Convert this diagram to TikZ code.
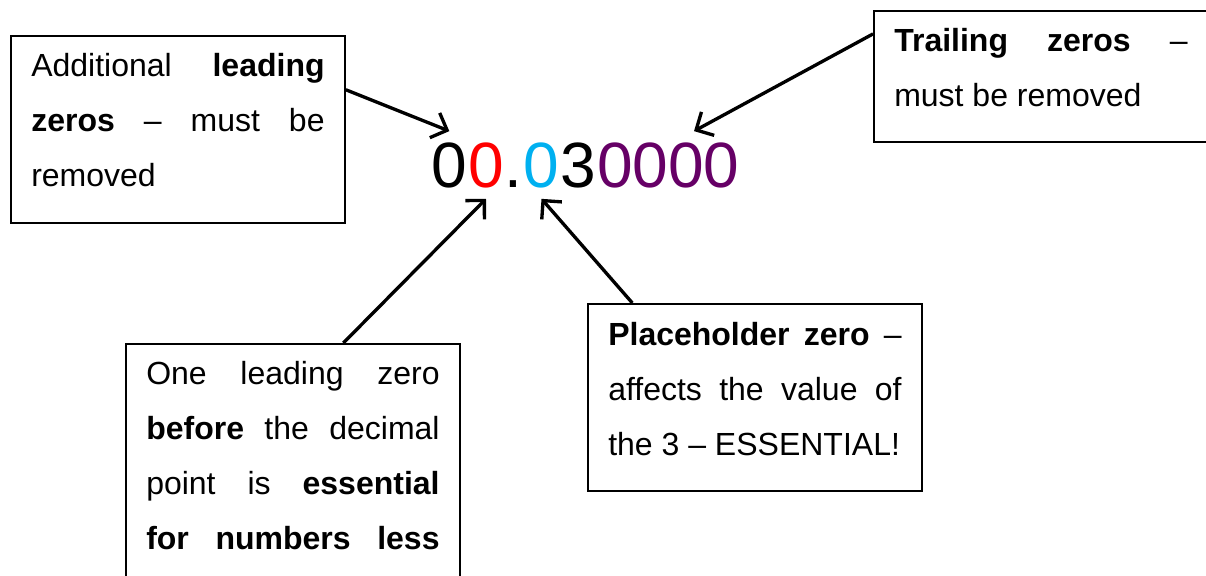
\documentclass[tikz,border=0pt]{standalone}
\usepackage{fontspec}
\setmainfont{Liberation Sans}
\usetikzlibrary{arrows.meta, positioning, calc}
\definecolor{zred}{HTML}{FF0000}
\definecolor{zcyan}{HTML}{00B0F0}
\definecolor{zplum}{HTML}{660066}

\begin{document}
\begin{tikzpicture}[x=0.375pt, y=-0.375pt,
  note/.style={rectangle, draw=black, line width=0.75pt, anchor=north west,
    font=\fontsize{12pt}{20.7pt}\selectfont, text width=110pt, align=justify,
    inner xsep=7.6pt, inner ysep=0pt, text height=15pt},
  digit/.style={font=\fontsize{24pt}{28pt}\selectfont, inner xsep=0pt,
    inner ysep=4pt},
  pointer/.style={-{Straight Barb[length=5pt, width=10pt]}, line width=1.25pt}]
  \useasboundingbox (0,0) rectangle (1206,575);
  \clip (0,0) rectangle (1206,575);
  % the number
  \node[digit, anchor=base west] (z1) at (431,187) {0};
  \node[digit, text=zred, base right=0pt of z1] (z2) {0};
  \node[digit, base right=0pt of z2] (dot) {.};
  \node[digit, text=zcyan, base right=0pt of dot] (z3) {0};
  \node[digit, base right=0pt of z3] (three) {3};
  \node[digit, text=zplum, base right=0pt of three] (tail) {0000};
  % notes
  \node[note, text depth=55.1pt] (lead) at (10,35)
    {Additional \textbf{leading}\linebreak \textbf{zeros} -- must be\linebreak removed};
  \node[note, text depth=34.1pt] (trail) at (873,10)
    {\textbf{Trailing zeros} --\linebreak must be removed};
  \node[note, text depth=100pt] (one) at (125,343)
    {One leading zero\linebreak \textbf{before} the decimal\linebreak
     point is \textbf{essential}\linebreak \textbf{for numbers less}\linebreak\mbox{}};
  \node[note, text height=15.4pt, text depth=54.75pt] (place) at (587,303)
    {\textbf{Placeholder zero} --\linebreak affects the value of\linebreak the 3 -- ESSENTIAL!};
  % arrows
  \draw[pointer] ($(lead.north east)!0.29!(lead.south east)$) -- (z1.north);
  \draw[pointer] ($(trail.north west)!0.18!(trail.south west)$)
    -- ($(tail.north west)!0.68!(tail.north east)$);
  \draw[pointer] ($(one.north west)!0.65!(one.north east)$) -- (z2.south);
  \draw[pointer] ($(place.north west)!0.135!(place.north east)$) -- (z3.south);
\end{tikzpicture}
\end{document}
